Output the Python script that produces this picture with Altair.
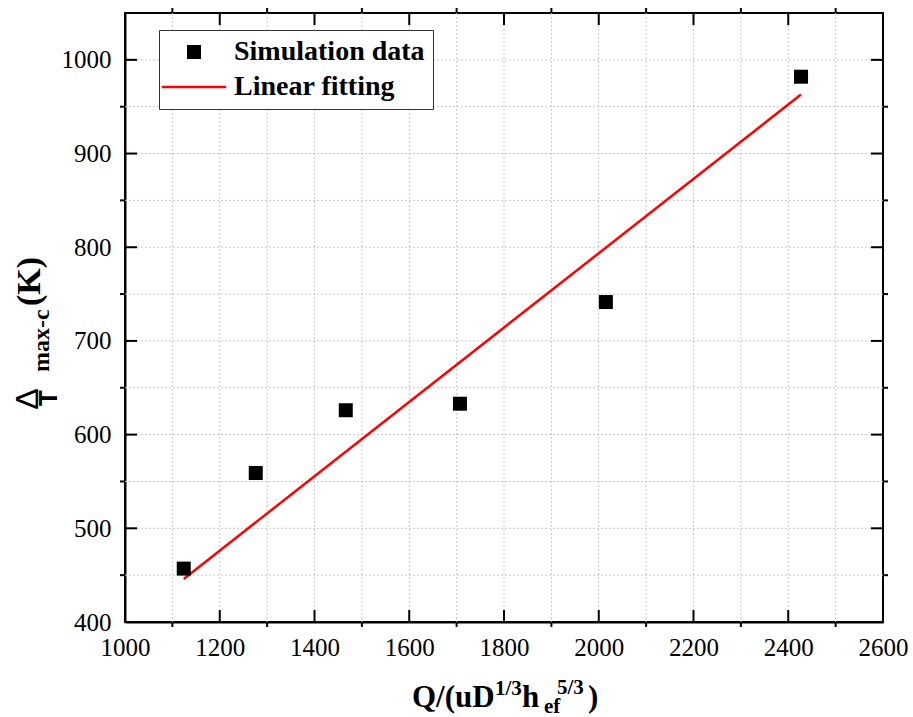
import altair as alt
import pandas as pd

# ---- data ----
sim_x = [1124, 1276, 1466, 1707, 2015, 2427]
sim_y = [457, 559, 626, 633, 741.5, 982]
fit_x = [1124, 2427]
fit_y = [446, 963]
series_names = ["Simulation data", "Linear fitting"]

x_tick_labels = [1000, 1200, 1400, 1600, 1800, 2000, 2200, 2400, 2600]
y_tick_labels = [400, 500, 600, 700, 800, 900, 1000]
x_grid = [1100, 1200, 1300, 1400, 1500, 1600, 1700, 1800, 1900, 2000, 2100, 2200, 2300, 2400, 2500]
y_grid = [450, 500, 550, 600, 650, 700, 750, 800, 850, 900, 950, 1000]
x_major = [1200, 1400, 1600, 1800, 2000, 2200, 2400]
x_minor = [1100, 1300, 1500, 1700, 1900, 2100, 2300, 2500]
y_major = [500, 600, 700, 800, 900, 1000]
y_minor = [450, 550, 650, 750, 850, 950]

x_title_parts = ["Q/(uD", "1/3", "h", "ef", "5/3", ")"]
y_title_parts = ["\u0394", "T", "max-c", "(K)"]

W, H = 758, 609
SERIF = "Liberation Serif"
SANS = "Liberation Sans"

xs = alt.Scale(domain=[1000, 2600], nice=False, zero=False)
ys = alt.Scale(domain=[400, 1050], nice=False, zero=False)

x_axis = alt.Axis(values=x_tick_labels, title=None, grid=False, ticks=False,
                  domainColor="black", domainWidth=2, labelFont=SERIF,
                  labelFontSize=25, labelColor="black", labelPadding=13,
                  labelFlush=False, labelOverlap=False, format="d")
y_axis = alt.Axis(values=y_tick_labels, title=None, grid=False, ticks=False,
                  domainColor="black", domainWidth=2, labelFont=SERIF,
                  labelFontSize=25, labelColor="black", labelPadding=14,
                  labelFlush=False, labelOverlap=False, format="d")


def X(f="x"):
    return alt.X(f"{f}:Q", scale=xs, axis=x_axis)


def Y(f="y"):
    return alt.Y(f"{f}:Q", scale=ys, axis=y_axis)


grid_style = dict(color="#c8c8c8", strokeDash=[2, 2], strokeWidth=1)

grid_x = alt.Chart(pd.DataFrame({"x": x_grid})).mark_rule(**grid_style).encode(
    x=X(), y=alt.value(0), y2=alt.value(H))
grid_y = alt.Chart(pd.DataFrame({"y": y_grid})).mark_rule(**grid_style).encode(
    y=Y(), x=alt.value(0), x2=alt.value(W))

tick_style = dict(color="black", strokeWidth=2)


def vticks(vals, y1, y2):
    return alt.Chart(pd.DataFrame({"x": vals})).mark_rule(**tick_style).encode(
        x=X(), y=alt.value(y1), y2=alt.value(y2))


def hticks(vals, x1, x2):
    return alt.Chart(pd.DataFrame({"y": vals})).mark_rule(**tick_style).encode(
        y=Y(), x=alt.value(x1), x2=alt.value(x2))


ticks = [
    vticks(x_major, H, H - 12), vticks(x_major, 0, 12),
    vticks(x_minor, H, H + 5), vticks(x_minor, 0, -5),
    hticks(y_major, 0, 12), hticks(y_major, W, W - 12),
    hticks(y_minor, 0, -5), hticks(y_minor, W, W + 5),
]

fit_df = pd.DataFrame({"x": fit_x, "y": fit_y})
fit_line = alt.Chart(fit_df).mark_line(color="#ff0000", strokeWidth=2.5).encode(
    x=X(), y=Y())

sq_path = "M-1,-1H1V1H-1Z"
ln_path = "M-4.6,-0.18H4.6V0.18H-4.6Z"

legend = alt.Legend(title=None, orient="none", legendX=34, legendY=17,
                    padding=8, fillColor="white", strokeColor="#333333",
                    symbolSize=196, symbolStrokeWidth=0, symbolOffset=13,
                    labelOffset=26, labelFont=SERIF, labelFontSize=28,
                    labelFontWeight="bold", labelColor="black", labelLimit=400,
                    rowPadding=7)

sim_df = pd.DataFrame({"x": sim_x, "y": sim_y, "s": [series_names[0]] * len(sim_x)})
points = alt.Chart(sim_df).mark_point(filled=True, opacity=1, size=196, strokeWidth=0).encode(
    x=X(), y=Y(),
    color=alt.Color("s:N", scale=alt.Scale(domain=series_names, range=["black", "red"]), legend=legend),
    shape=alt.Shape("s:N", scale=alt.Scale(domain=series_names, range=[sq_path, ln_path]), legend=legend),
)


def label(txt, x, y, size, font=SERIF, weight="bold", angle=0, align="left"):
    kw = dict(align=align, baseline="alphabetic", font=font, fontSize=size,
              fontWeight=weight, color="black")
    if angle:
        kw["angle"] = angle
    return alt.Chart(pd.DataFrame({"t": [txt]})).mark_text(**kw).encode(
        text="t:N", x=alt.value(x), y=alt.value(y))


# x-axis title pieces (superscripts / subscript)
xt = [
    label(x_title_parts[0], 287, 694, 31),
    label(x_title_parts[1], 370, 682, 21),
    label(x_title_parts[2], 397, 694, 31),
    label(x_title_parts[3], 419, 700, 21),
    label(x_title_parts[4], 432, 681, 21),
    label(x_title_parts[5], 463, 694, 31),
]

# y-axis title pieces, rotated
yt = [
    label(y_title_parts[0], -87, 386, 32, font=SANS, weight="normal", angle=270, align="center"),
    label(y_title_parts[1], -68, 385, 26, font=SANS, weight="bold", angle=270, align="center"),
    label(y_title_parts[2], -76, 359, 24, angle=270),
    label(y_title_parts[3], -85, 293, 34, angle=270),
]

chart = alt.layer(grid_x, grid_y, *ticks, fit_line, points, *xt, *yt).properties(
    width=W, height=H,
    autosize=alt.AutoSizeParams(type="none"),
    padding={"left": 125, "top": 13, "right": 30, "bottom": 95},
    background="white",
).configure_view(stroke="black", strokeWidth=2)

chart.save("out.html", embed_options={"renderer": "svg", "actions": False})
